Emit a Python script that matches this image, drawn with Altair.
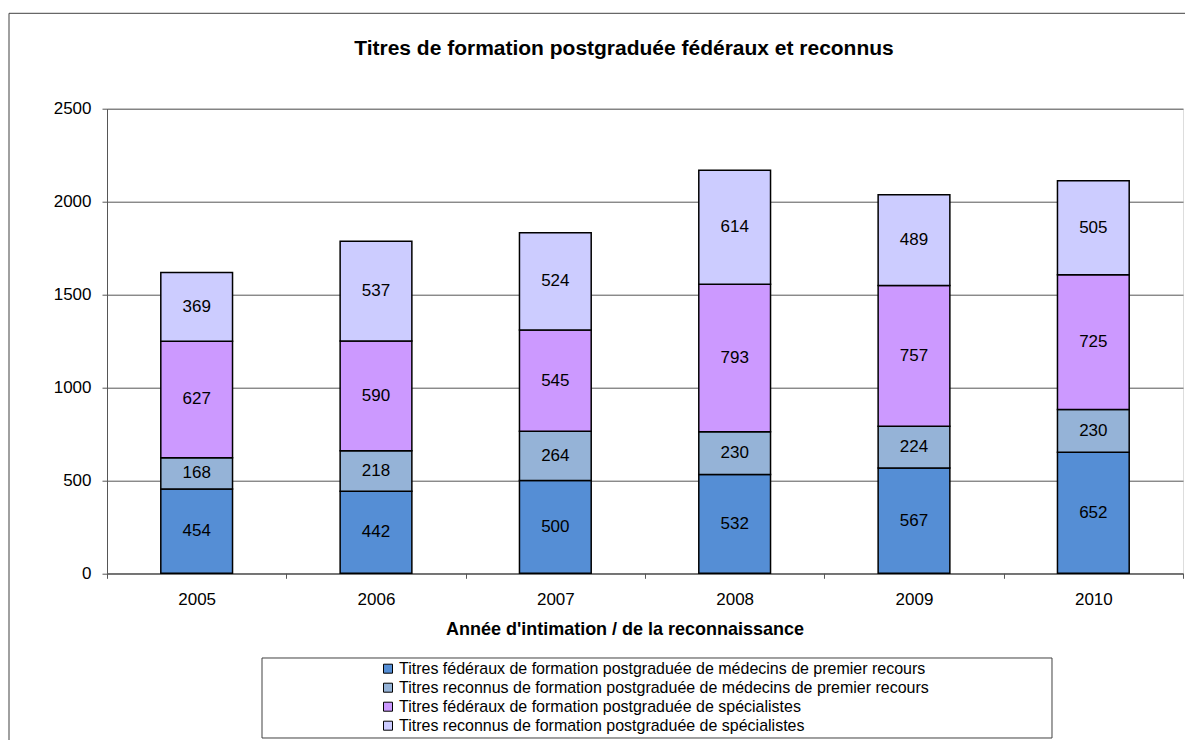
import altair as alt
import pandas as pd

years = ["2005", "2006", "2007", "2008", "2009", "2010"]
series = [
    "Titres fédéraux de formation postgraduée de médecins de premier recours",
    "Titres reconnus de formation postgraduée de médecins de premier recours",
    "Titres fédéraux de formation postgraduée de spécialistes",
    "Titres reconnus de formation postgraduée de spécialistes",
]
federaux_mpr = [454, 442, 500, 532, 567, 652]
reconnus_mpr = [168, 218, 264, 230, 224, 230]
federaux_spec = [627, 590, 545, 793, 757, 725]
reconnus_spec = [369, 537, 524, 614, 489, 505]
colors = ["#558ED5", "#95B3D7", "#CC99FF", "#CCCCFF"]
y_ticks = [0, 500, 1000, 1500, 2000, 2500]

rows = []
for si, vals in enumerate([federaux_mpr, reconnus_mpr, federaux_spec, reconnus_spec]):
    for yi, v in enumerate(vals):
        rows.append({"year": years[yi], "series": series[si], "idx": si, "value": v})
df = pd.DataFrame(rows)

FONT = "Liberation Sans"

x_enc = alt.X(
    "year:N",
    sort=years,
    scale=alt.Scale(paddingInner=0, paddingOuter=0),
    axis=alt.Axis(
        title="Année d'intimation / de la reconnaissance",
        titleFont=FONT, titleFontSize=18, titleFontWeight="bold", titleColor="black",
        titleX=517.5, titleY=61.7, titleBaseline="alphabetic", titleAlign="center",
        labelAngle=0, labelFont=FONT, labelFontSize=17, labelColor="black",
        labelBaseline="alphabetic", labelPadding=26.7,
        tickBand="extent", tickSize=5, tickColor="#555555", domainColor="#555555",
        grid=False,
    ),
)

y_scale = alt.Scale(domain=[0, 2500], nice=False)

bars = alt.Chart(df).mark_bar(
    width=alt.RelativeBandSize(0.4), stroke="black", strokeWidth=1.5
).encode(
    x=x_enc,
    y=alt.Y(
        "value:Q", stack="zero", scale=y_scale,
        axis=alt.Axis(
            values=y_ticks, format="d", title=None, grid=True, gridColor="#555555",
            gridWidth=1, domainColor="#555555", tickColor="#555555", tickSize=5,
            labelPadding=11, labelFont=FONT, labelFontSize=17, labelColor="black",
        ),
    ),
    color=alt.Color(
        "series:N",
        scale=alt.Scale(domain=series, range=colors),
        title=None,
        legend=alt.Legend(
            orient="none", legendX=273, legendY=552, direction="vertical",
            labelFont=FONT, labelFontSize=16, labelColor="black", labelLimit=800,
            symbolType="square", symbolSize=81, symbolStrokeColor="black",
            symbolStrokeWidth=1, symbolOpacity=1, labelOffset=3, rowPadding=3,
            padding=0,
        ),
    ),
    order=alt.Order("idx:Q", sort="ascending"),
)

labels = alt.Chart(df).transform_stack(
    stack="value", groupby=["year"], as_=["v0", "v1"],
    sort=[alt.SortField("idx", order="ascending")],
).transform_calculate(
    mid="(datum.v0 + datum.v1) / 2"
).mark_text(font=FONT, fontSize=17, color="black", baseline="middle").encode(
    x=alt.X("year:N", sort=years),
    y=alt.Y("mid:Q", scale=y_scale),
    text=alt.Text("value:Q"),
)

one = pd.DataFrame({"k": [0]})
frame = alt.Chart(one).mark_rect(
    fillOpacity=0, stroke="#404040", strokeWidth=1
).encode(
    x=alt.value(-98), x2=alt.value(1100), y=alt.value(-95.4), y2=alt.value(660)
)
legend_box = alt.Chart(one).mark_rect(
    fill="white", stroke="#404040", strokeWidth=1
).encode(
    x=alt.value(155), x2=alt.value(945), y=alt.value(549.3), y2=alt.value(629.3)
)

chart = alt.layer(frame, legend_box, bars, labels).properties(
    width=1076,
    height=464.6,
    autosize=alt.AutoSizeParams(type="none"),
    padding={"left": 99, "top": 100.7, "right": 2, "bottom": 167},
    title=alt.TitleParams(
        text="Titres de formation postgraduée fédéraux et reconnus",
        font=FONT, fontSize=21, fontWeight="bold", color="black",
        anchor="middle", frame="group", offset=-63.5, baseline="alphabetic", dx=-21,
    ),
).configure_view(
    fill="#C0C0C0", stroke="#808080", strokeWidth=1
).configure(background="white")

chart.save("out.html", embed_options={"renderer": "svg", "actions": False})
